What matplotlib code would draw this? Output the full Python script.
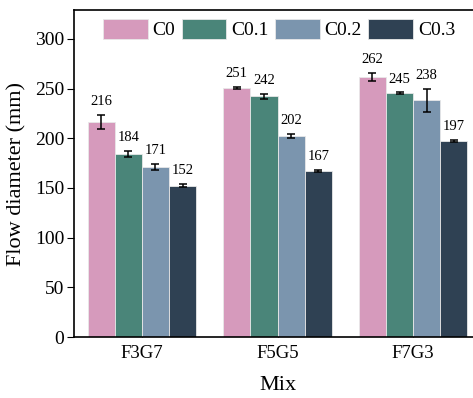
import numpy as np
import matplotlib
matplotlib.use('Agg')
import matplotlib.pyplot as plt

plt.rcParams['font.family'] = 'Liberation Serif'

#datos
mixes = ['F3G7', 'F5G5', 'F7G3']
series = ['C0', 'C0.1', 'C0.2', 'C0.3']
values = [[216, 251, 262],
          [184, 242, 245],
          [171, 202, 238],
          [152, 167, 197]]
errors = [[7, 1, 4],
          [3, 2.5, 1],
          [3, 2, 11.5],
          [1.5, 1, 1]]
colors = ['#D69ABC', '#4A8579', '#7B95AE', '#2F4153']

fig = plt.figure(figsize=(4.73, 3.98), dpi=100)
ax = fig.add_axes([74/473, 61/398, 407/473, 327/398])

x = np.arange(len(mixes))
w = 0.2
for i in range(len(series)):
    pos = x + (i-1.5)*w
    ax.bar(pos, values[i], w, color=colors[i], edgecolor='#e8e8e8', linewidth=0.6,
           label=series[i], zorder=2)
    ax.errorbar(pos, values[i], yerr=errors[i], fmt='none', ecolor='black',
                elinewidth=1.1, capsize=3, capthick=1.1, zorder=3)
    for xx, v, e in zip(pos, values[i], errors[i]):
        ax.annotate(str(v), (xx, v+e), xytext=(0, 5), textcoords='offset points',
                    ha='center', va='bottom', fontsize=10.5)

ax.set_xlim(-0.5, 2.5)
ax.set_ylim(0, 329)
ax.set_yticks([0, 50, 100, 150, 200, 250, 300])
ax.set_xticks(x)
ax.set_xticklabels(mixes)
ax.tick_params(axis='x', direction='in', length=5, labelsize=13.5, pad=6)
ax.tick_params(axis='y', direction='out', length=5, labelsize=14, pad=2)
ax.set_xlabel('Mix', fontsize=16, labelpad=10)
ax.set_ylabel('Flow diameter (mm)', fontsize=16, labelpad=6)
for s in ax.spines.values():
    s.set_linewidth(1.2)

ax.legend(loc='upper left', bbox_to_anchor=(25/407, 1 - 5/327), ncol=4, frameon=False,
          fontsize=14, handlelength=2.3, handleheight=1.2, handletextpad=0.25,
          columnspacing=0.33, borderpad=0.2, borderaxespad=0)

plt.savefig('out.png', dpi=100)
